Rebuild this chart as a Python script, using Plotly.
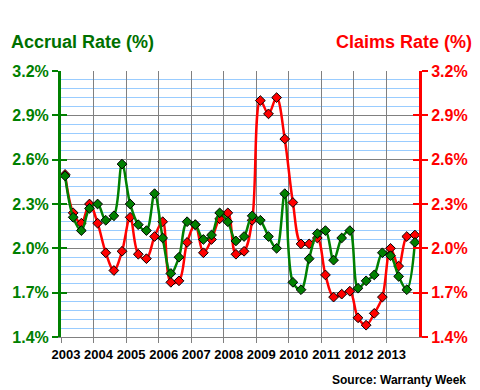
import plotly.graph_objects as go

years = list(range(2003, 2014))
quarters = [1, 2, 3, 4]

accrual_rate = [
    2.49, 2.21, 2.12, 2.27, 2.30, 2.19, 2.22, 2.57, 2.30, 2.16, 2.12,
    2.37, 2.07, 1.83, 1.94, 2.18, 2.16, 2.06, 2.09, 2.24, 2.18, 2.05,
    2.08, 2.22, 2.19, 2.08, 2.00, 2.37, 1.77, 1.72, 1.93, 2.10, 2.12,
    1.92, 2.07, 2.12, 1.73, 1.78, 1.82, 1.97, 1.95, 1.81, 1.72, 2.04,
]
claims_rate = [
    2.50, 2.24, 2.17, 2.30, 2.17, 1.97, 1.85, 1.98, 2.21, 1.96, 1.93,
    2.08, 2.18, 1.77, 1.78, 2.04, 2.16, 1.97, 2.06, 2.20, 2.24, 1.96,
    1.98, 2.19, 3.00, 2.91, 3.02, 2.74, 2.31, 2.03, 2.03, 2.07, 1.82,
    1.67, 1.69, 1.71, 1.53, 1.48, 1.56, 1.67, 2.00, 1.88, 2.08, 2.09,
]
y_ticks = [1.4, 1.7, 2.0, 2.3, 2.6, 2.9, 3.2]
y_tick_text = ["1.4%", "1.7%", "2.0%", "2.3%", "2.6%", "2.9%", "3.2%"]

x_pos = [y + (q - 0.5) / 4 for y in years for q in quarters]

GREEN = "#008000"
RED = "#FF0000"
FONT = "Arial, Liberation Sans, sans-serif"

fig = go.Figure()
fig.add_trace(go.Scatter(
    x=x_pos, y=claims_rate, mode="lines+markers", yaxis="y",
    line=dict(color=RED, width=2.5, shape="spline", smoothing=1),
    marker=dict(symbol="diamond", size=7.5, color=RED, line=dict(color="black", width=1)),
    showlegend=False, hoverinfo="skip"))
fig.add_trace(go.Scatter(
    x=x_pos, y=accrual_rate, mode="lines+markers", yaxis="y2",
    line=dict(color=GREEN, width=2.5, shape="spline", smoothing=1),
    marker=dict(symbol="diamond", size=7.5, color=GREEN, line=dict(color="black", width=1)),
    showlegend=False, hoverinfo="skip"))
# carriers for inside tick marks
fig.add_trace(go.Scatter(x=[], y=[], yaxis="y3", showlegend=False))
fig.add_trace(go.Scatter(x=[], y=[], yaxis="y4", showlegend=False))

yr = [1.4, 3.2]
fig.update_layout(
    width=480, height=390,
    margin=dict(l=55, r=60, t=71, b=53),
    paper_bgcolor="white", plot_bgcolor="white",
    font=dict(family=FONT),
    xaxis=dict(
        range=[2003, 2014], tickvals=years, ticktext=[str(y) for y in years],
        showgrid=True, gridcolor="#808080", gridwidth=1,
        showline=True, linecolor="#808080", linewidth=1,
        ticks="outside", ticklen=5, tickcolor="#808080",
        tickfont=dict(size=13, color="black", family=FONT, weight="bold"),
        ticklabelshift=5, zeroline=False, fixedrange=True,
    ),
    yaxis=dict(
        range=yr, side="right", tickvals=y_ticks, ticktext=y_tick_text,
        showgrid=True, gridcolor="#808080", gridwidth=1,
        minor=dict(dtick=0.06, tick0=1.4, showgrid=True, gridcolor="#99CCFF", gridwidth=1),
        showline=True, linecolor=RED, linewidth=3,
        ticks="outside", ticklen=6, tickcolor=RED, tickwidth=2,
        tickfont=dict(size=16, color=RED, family=FONT, weight="bold"),
        zeroline=False, fixedrange=True,
    ),
    yaxis2=dict(
        range=yr, side="left", overlaying="y", tickvals=y_ticks, ticktext=y_tick_text,
        showgrid=False, showline=True, linecolor=GREEN, linewidth=3,
        ticks="outside", ticklen=6, tickcolor=GREEN, tickwidth=2,
        tickfont=dict(size=16, color=GREEN, family=FONT, weight="bold"),
        zeroline=False, fixedrange=True,
    ),
    yaxis3=dict(
        range=yr, side="left", overlaying="y", tickvals=y_ticks,
        showticklabels=False, showgrid=False, showline=False,
        ticks="inside", ticklen=6, tickcolor=GREEN, tickwidth=2, zeroline=False,
    ),
    yaxis4=dict(
        range=yr, side="right", overlaying="y", tickvals=y_ticks,
        showticklabels=False, showgrid=False, showline=False,
        ticks="inside", ticklen=6, tickcolor=RED, tickwidth=2, zeroline=False,
    ),
    annotations=[
        dict(text="Accrual Rate (%)", xref="paper", yref="paper", x=-53/365, y=1 + 29/266,
             xanchor="left", yanchor="middle", showarrow=False,
             font=dict(size=18, color="#007000", family=FONT, weight="bold")),
        dict(text="Claims Rate (%)", xref="paper", yref="paper", x=1 + 56/365, y=1 + 29/266,
             xanchor="right", yanchor="middle", showarrow=False,
             font=dict(size=18, color=RED, family=FONT, weight="bold")),
        dict(text="Source: Warranty Week", xref="paper", yref="paper", x=1 + 50/365, y=-43/266,
             xanchor="right", yanchor="middle", showarrow=False,
             font=dict(size=12, color="black", family=FONT, weight="bold")),
    ],
)

fig.write_html("out.html", config={"displayModeBar": False},
               post_script="document.body.style.margin='0';")
